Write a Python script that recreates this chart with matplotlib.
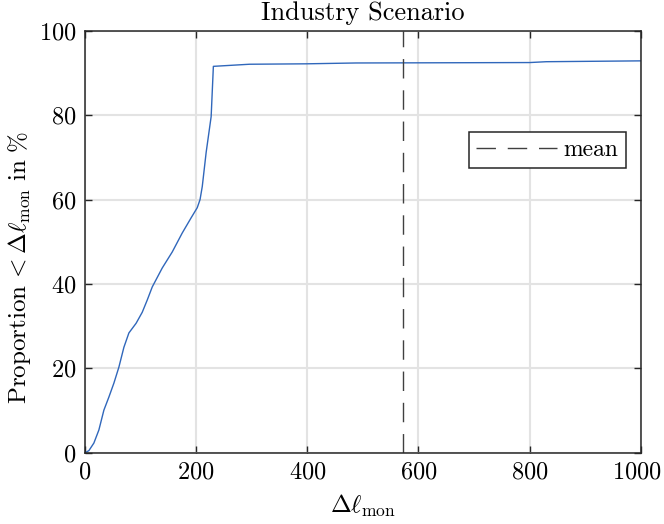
import matplotlib

matplotlib.use("Agg")
import matplotlib.pyplot as plt
from matplotlib.transforms import ScaledTranslation

plt.rcParams["font.family"] = "serif"
plt.rcParams["font.serif"] = ["cmr10"]
plt.rcParams["mathtext.fontset"] = "cm"
plt.rcParams["axes.unicode_minus"] = False
plt.rcParams["axes.formatter.use_mathtext"] = True

delta_mon = [0, 7, 16, 25, 34, 43, 52, 61, 70, 79, 92, 103, 112, 121, 139,
             157, 175, 191, 202, 207, 211, 218, 227, 231, 296, 398, 488,
             800, 830, 1000]
proportion = [0.0, 0.5, 2.3, 5.4, 10.1, 13.2, 16.5, 20.3, 25.0, 28.4, 30.7,
              33.3, 36.2, 39.3, 43.8, 47.6, 52.1, 55.7, 58.1, 60.0, 63.1,
              71.2, 79.7, 91.6, 92.1, 92.2, 92.4, 92.5, 92.7, 92.9]
mean_value = 573

xticks = [0, 200, 400, 600, 800, 1000]
yticks = [0, 20, 40, 60, 80, 100]

fig = plt.figure(figsize=(6.64, 5.24), dpi=100)
ax = fig.add_axes([0.128, 0.136, 0.837, 0.805])

ax.plot(delta_mon, proportion, color="#3067bb", lw=1.0)
ax.axvline(mean_value, color="#404040", lw=1.0, ls=(0, (14, 8.5)),
           label="mean")

ax.set_xlim(0, 1000)
ax.set_ylim(0, 100)
ax.set_xticks(xticks)
ax.set_yticks(yticks)
ax.grid(True, color="#e3e3e3", lw=1.5)
ax.set_axisbelow(True)
ax.tick_params(direction="in", length=5, width=1.0, top=True, right=True,
               labelsize=17.5, pad=6, colors="#262626", labelcolor="black")
for s in ax.spines.values():
    s.set_color("#262626")
    s.set_linewidth(1.1)

# nudge the last x label so it stays inside the figure
last = ax.get_xticklabels()[-1]
last.set_transform(last.get_transform()
                   + ScaledTranslation(-0.035, 0, fig.dpi_scale_trans))

ax.set_title("Industry Scenario", fontsize=19, pad=8)
ax.set_xlabel(r"$\Delta\ell_{\mathrm{mon}}$", fontsize=18, labelpad=7)
ax.set_ylabel(r"$\mathrm{Proportion}\,<\Delta\ell_{\mathrm{mon}}\ \mathrm{in}\ \%$",
              fontsize=18)
ax.yaxis.set_label_coords(-0.094, 0.44)

leg = ax.legend(loc="upper right", bbox_to_anchor=(0.973, 0.76),
                borderaxespad=0, fontsize=17, fancybox=False, framealpha=1,
                edgecolor="#262626", handlelength=3.4, borderpad=0.3,
                handletextpad=0.3)
leg.get_frame().set_linewidth(1.1)

fig.savefig("out.png", dpi=100)
